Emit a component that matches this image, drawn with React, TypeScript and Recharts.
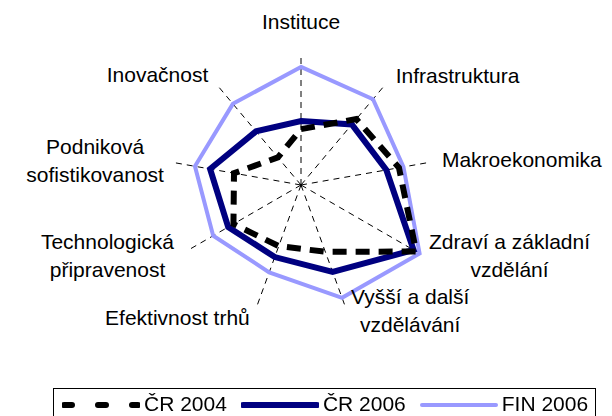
import React from 'react';
import { RadarChart, Radar, PolarGrid, PolarAngleAxis, PolarRadiusAxis, Legend } from 'recharts';

// categories, clockwise from the top
const categories = [
    'Instituce',
    'Infrastruktura',
    'Makroekonomika',
    'Zdraví a základní vzdělání',
    'Vyšší a další vzdělávání',
    'Efektivnost trhů',
    'Technologická připravenost',
    'Podniková sofistikovanost',
    'Inovačnost',
];

// how each category label is broken into lines
const tickLabels: string[][] = [
    ['Instituce'],
    ['Infrastruktura'],
    ['Makroekonomika'],
    ['Zdraví a základní', 'vzdělání'],
    ['Vyšší a další', 'vzdělávání'],
    ['Efektivnost trhů'],
    ['Technologická', 'připravenost'],
    ['Podniková', 'sofistikovanost'],
    ['Inovačnost'],
];

const cr2004 = [2.58, 3.97, 4.59, 6.14, 3.28, 3.0, 3.6, 3.14, 1.66];
const cr2006 = [2.95, 3.65, 4.0, 6.0, 4.27, 3.54, 3.88, 4.26, 3.23];
const fin2006 = [5.45, 5.17, 4.8, 6.32, 5.54, 4.29, 4.68, 4.97, 4.89];

const data = categories.map((c, i) => ({
    category: c,
    cr2004: cr2004[i],
    cr2006: cr2006[i],
    fin2006: fin2006[i],
}));

const FONT = '"Liberation Sans", Arial, sans-serif';

// label placement relative to the axis end point
const tickPlacement: { anchor: 'start' | 'middle' | 'end'; dx: number; dy: number }[] = [
    { anchor: 'middle', dx: 0, dy: -18 },
    { anchor: 'start', dx: 6, dy: 4 },
    { anchor: 'start', dx: 5, dy: 6 },
    { anchor: 'middle', dx: 89, dy: -5 },
    { anchor: 'middle', dx: 62, dy: -11 },
    { anchor: 'end', dx: -4, dy: 10 },
    { anchor: 'middle', dx: -74, dy: -5 },
    { anchor: 'middle', dx: -70, dy: -7 },
    { anchor: 'end', dx: -4, dy: 3 },
];

const AngleTick = (props: any) => {
    const { x, y, payload, index } = props;
    const i = typeof index === 'number' ? index : categories.indexOf(payload.value);
    const p = tickPlacement[i];
    const lines = tickLabels[i];
    return (
        <text
            x={x + p.dx}
            y={y + p.dy}
            textAnchor={p.anchor}
            fill="#000"
            fontSize={21}
            fontFamily={FONT}
        >
            {lines.map((l, k) => (
                <tspan key={k} x={x + p.dx} dy={k === 0 ? 0 : 28}>
                    {l}
                </tspan>
            ))}
        </text>
    );
};

const legendItems = [
    { label: 'ČR 2004', color: '#000000', width: 6, dash: '8 26' },
    { label: 'ČR 2006', color: '#000080', width: 6, dash: undefined },
    { label: 'FIN 2006', color: '#9999FF', width: 4, dash: undefined },
];

const ChartLegend = () => (
    <div
        style={{
            border: '1px solid #000',
            height: 40,
            boxSizing: 'border-box',
            display: 'flex',
            alignItems: 'flex-start',
            paddingTop: 2,
            paddingLeft: 8,
            fontFamily: FONT,
            fontSize: 21,
            lineHeight: '26px',
            background: '#fff',
        }}
    >
        {legendItems.map((it, i) => (
            <div key={it.label} style={{ display: 'flex', alignItems: 'center', marginRight: i === 2 ? 0 : 14 }}>
                <svg width={78} height={26} style={{ marginRight: 4 }}>
                    <line
                        x1={2}
                        y1={14}
                        x2={76}
                        y2={14}
                        stroke={it.color}
                        strokeWidth={it.width}
                        strokeDasharray={it.dash}
                        strokeLinecap="round"
                    />
                </svg>
                <span>{it.label}</span>
            </div>
        ))}
    </div>
);

export default function App() {
    return (
        <div style={{ position: 'fixed', left: 0, top: 0, width: 612, height: 416, background: '#fff' }}>
            <RadarChart
                width={612}
                height={416}
                data={data}
                cx={301}
                cy={185}
                outerRadius={130}
                margin={{ top: 0, right: 0, bottom: 0, left: 0 }}
            >
                <PolarGrid
                    polarRadius={[]}
                    stroke="#000"
                    strokeWidth={1}
                    strokeDasharray="6 5"
                />
                <PolarAngleAxis
                    dataKey="category"
                    axisLine={false}
                    tickLine={false}
                    tick={<AngleTick />}
                />
                <PolarRadiusAxis
                    domain={[0, 6]}
                    allowDataOverflow
                    tick={false}
                    axisLine={false}
                />
                <Radar
                    name="FIN 2006"
                    dataKey="fin2006"
                    stroke="#9999FF"
                    strokeWidth={4}
                    fill="none"
                    fillOpacity={0}
                    isAnimationActive={false}
                />
                <Radar
                    name="ČR 2006"
                    dataKey="cr2006"
                    stroke="#000080"
                    strokeWidth={6}
                    fill="none"
                    fillOpacity={0}
                    isAnimationActive={false}
                />
                <Radar
                    name="ČR 2004"
                    dataKey="cr2004"
                    stroke="#000000"
                    strokeWidth={6}
                    strokeDasharray="14 9"
                    fill="none"
                    fillOpacity={0}
                    isAnimationActive={false}
                />
                <Legend
                    content={<ChartLegend />}
                    wrapperStyle={{ position: 'absolute', left: 53, top: 388, width: 543 }}
                />
            </RadarChart>
        </div>
    );
}
